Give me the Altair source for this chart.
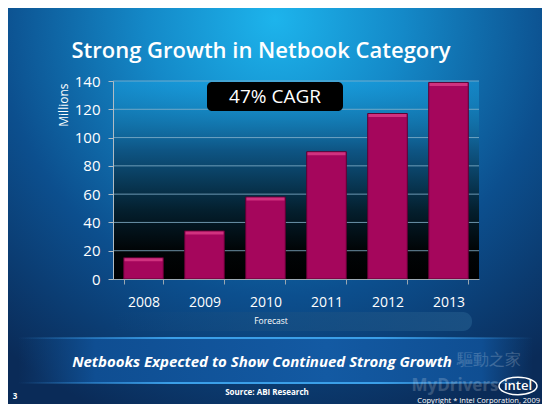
import altair as alt
import pandas as pd

# ---- data ----
years = ["2008", "2009", "2010", "2011", "2012", "2013"]
units = [15, 34, 58, 90, 117, 139]
y_ticks = [0, 20, 40, 60, 80, 100, 120, 140]

title_text = "Strong Growth in Netbook Category"
cagr_text = "47% CAGR"
forecast_text = "Forecast"
banner_text = "Netbooks Expected to Show Continued Strong Growth"
source_text = "Source: ABI Research"
page_text = "3"
copyright_text = "Copyright * Intel Corporation, 2009"

FONT = "Open Sans"
W, H = 366, 198
PL, PT = 105, 73
PR, PB = 534 - PL - W, 396 - PT - H

bars_df = pd.DataFrame({"year": years, "value": units})
grid_df = pd.DataFrame({"value": y_ticks[1:]})
one = pd.DataFrame({"k": [0]})


def box(x, x2, y, y2, **kw):
    return alt.Chart(one).mark_rect(**kw).encode(
        x=alt.value(x), x2=alt.value(x2), y=alt.value(y), y2=alt.value(y2)
    )


def label(text, x, y, **kw):
    df = pd.DataFrame({"t": [text]})
    return alt.Chart(df).mark_text(font=FONT, **kw).encode(
        x=alt.value(x), y=alt.value(y), text="t:N"
    )


def stops(pairs):
    return [{"offset": o, "color": c} for o, c in pairs]


bg = box(-PL, W + PR, -PT, H + PB, fill={
    "gradient": "radial", "x1": 0.5, "y1": 0.15, "x2": 0.5, "y2": 0.15,
    "r1": 0, "r2": 0.8,
    "stops": stops([(0, "#1db4ec"), (0.3, "#1489c8"), (0.65, "#0c4f8e"), (1, "#0a2b58")]),
})

plot_bg = box(0, W, 0, H, fill={
    "gradient": "linear", "x1": 0, "y1": 0, "x2": 0, "y2": 1,
    "stops": stops([(0, "rgba(25,160,225,0.5)"), (0.35, "#0e5584"), (0.65, "#04202f"), (0.85, "#010507"), (1, "#000000")]),
})

forecast_band = box(0, 359, 231, 250, cornerRadius=9, fill={
    "gradient": "linear", "x1": 0, "y1": 0, "x2": 1, "y2": 0,
    "stops": stops([(0, "rgba(25,75,125,0)"), (0.4, "rgba(25,80,130,0.5)"), (1, "rgba(30,85,135,0.8)")]),
})

banner = box(-95, 420, 257, 302, fill={
    "gradient": "linear", "x1": 0, "y1": 0, "x2": 1, "y2": 0,
    "stops": stops([(0, "rgba(15,70,130,0)"), (0.15, "#0f4e92"), (0.6, "#135aa3"), (0.9, "#0f4e92"), (1, "rgba(15,70,130,0)")]),
})
edge_fill = {
    "gradient": "linear", "x1": 0, "y1": 0, "x2": 1, "y2": 0,
    "stops": stops([(0, "rgba(60,160,240,0)"), (0.3, "#3b9fe8"), (0.7, "#3b9fe8"), (1, "rgba(60,160,240,0)")]),
}
banner_top = box(-95, 420, 256, 258, fill=edge_fill)
banner_bot = box(-95, 420, 301, 303, fill=edge_fill)

yscale = alt.Scale(domain=[0, 140], nice=False)
xscale = alt.Scale(paddingInner=0.35, paddingOuter=0.175)

y_axis = alt.Axis(
    title="Millions", titleColor="white", titleFont=FONT, titleFontSize=12,
    titleFontWeight="normal", titleAngle=270, titleAlign="right",
    titleBaseline="middle", titleX=-50, titleY=2,
    values=y_ticks, labelColor="white", labelFontSize=15, labelFont=FONT,
    labelPadding=8, tickSize=5, tickColor="#b0bcc4", domainColor="#b0bcc4",
    grid=False, zindex=1)

grid = alt.Chart(grid_df).mark_rule(color="#86b2cc", opacity=0.8, strokeWidth=1).encode(
    y=alt.Y("value:Q", scale=yscale, axis=y_axis),
    x=alt.value(0), x2=alt.value(W),
)

bars = alt.Chart(bars_df).mark_bar(
    color="#a5065c", stroke="#5e0033", strokeWidth=1
).encode(
    x=alt.X("year:N", scale=xscale, axis=alt.Axis(
        title=None, labelAngle=0, labelColor="white", labelFontSize=14, labelFont=FONT,
        labelPadding=11, tickBand="extent", tickSize=5, tickColor="#9aa8b2",
        domainColor="#9aa8b2", grid=False, zindex=1)),
    y=alt.Y("value:Q", scale=yscale, axis=y_axis),
)

highlight = alt.Chart(bars_df).mark_tick(
    color="#e2468f", size=38, thickness=3, yOffset=2
).encode(x=alt.X("year:N", scale=xscale), y=alt.Y("value:Q", scale=yscale, axis=y_axis))

cagr_box = box(94, 230, 1, 30, fill="black", cornerRadius=5)

layers = [
    bg, plot_bg, forecast_band, banner, banner_top, banner_bot, grid, bars, highlight,
    cagr_box,
    label(cagr_text, 162, 16, fontSize=19, color="white", baseline="middle"),
    label(title_text, 148, -23, fontSize=22, fontWeight=600, color="white", baseline="alphabetic"),
    label(forecast_text, 158, 240, fontSize=8.5, color="white", baseline="middle"),
    label(banner_text, 149, 281, fontSize=15, fontWeight="bold", fontStyle="italic", color="white", baseline="middle"),
    label(source_text, 154, 312, fontSize=8, fontWeight="bold", color="white", baseline="middle"),
    label(page_text, -98, 316, fontSize=8, fontWeight="bold", color="white", baseline="middle"),
    label(copyright_text, 427, 320, fontSize=7.5, color="white", align="right", baseline="middle"),
    label("驅動之家", 376, 279, fontSize=16, color="white", opacity=0.2, baseline="middle"),
    label("MyDrivers", 342, 305, fontSize=17, fontWeight="bold", color="white", opacity=0.18, baseline="middle"),
    alt.Chart(one).mark_point(
        shape="M-1,0 A1,0.46 0 1,1 1,0 A1,0.46 0 1,1 -1,0 Z", size=1444,
        stroke="white", strokeWidth=1.5, filled=False, opacity=1,
    ).encode(x=alt.value(405), y=alt.value(305)),
    label("intel", 405, 305, fontSize=13, fontWeight=600, color="white", baseline="middle"),
]

chart = alt.layer(*layers).properties(
    width=W, height=H,
    padding={"left": PL, "top": PT, "right": PR, "bottom": PB},
    autosize=alt.AutoSizeParams(type="none"),
    background="#0a2b58",
).configure_view(stroke=None)

chart.save("out.html", embed_options={"renderer": "svg", "actions": False})
